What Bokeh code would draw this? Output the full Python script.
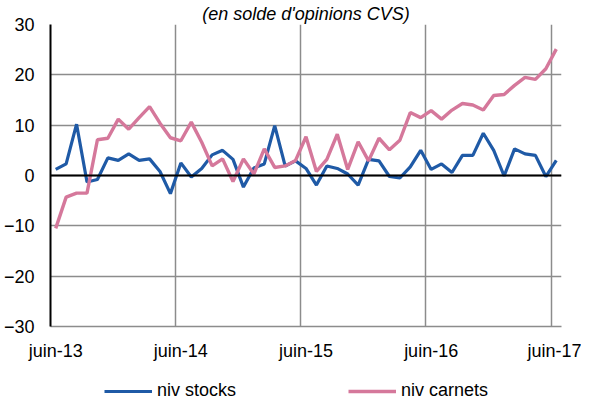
from bokeh.plotting import figure
from bokeh.layouts import column
from bokeh.models import Legend, LegendItem, Span, Title, FixedTicker, Range1d
from bokeh.embed import file_html
from bokeh.resources import INLINE

# Monthly data from juin-13 to juin-17 (49 months)
month_index = list(range(49))
tick_positions = [0, 12, 24, 36, 48]
tick_labels = ["juin-13", "juin-14", "juin-15", "juin-16", "juin-17"]
series_names = ["niv stocks", "niv carnets"]

niv_stocks = [1.2, 2.3, 10.2, -1.3, -0.8, 3.5, 3.0, 4.3, 3.0, 3.3,
              0.8, -3.6, 2.5, -0.3, 1.4, 4.1, 5.0, 3.2, -2.3, 1.5,
              2.3, 9.9, 1.9, 2.9, 1.4, -1.9, 1.9, 1.4, 0.3, -1.9,
              3.2, 2.9, -0.2, -0.5, 1.7, 5.0, 1.2, 2.3, 0.6, 4.0,
              4.0, 8.4, 5.0, -0.1, 5.3, 4.3, 4.0, -0.2, 3.0]

niv_carnets = [-10.5, -4.3, -3.5, -3.5, 7.1, 7.4, 11.2, 9.2, 11.5, 13.7,
               10.4, 7.5, 6.9, 10.6, 6.6, 1.9, 3.3, -1.2, 3.3, 0.3,
               5.3, 1.6, 1.9, 3.0, 7.7, 0.8, 3.2, 8.2, 1.2, 6.7,
               2.9, 7.4, 5.1, 7.0, 12.5, 11.5, 12.9, 11.2, 13.0, 14.3,
               14.0, 13.0, 15.9, 16.1, 17.9, 19.5, 19.1, 21.2, 25.1]

y_ticks = [-30, -20, -10, 0, 10, 20, 30]

# points sit in the middle of each month category
x_pos = [i + 0.5 for i in month_index]
label_pos = [t + 0.5 for t in tick_positions]

FONT = "Liberation Sans"
GRID = "#8c8c8c"
BLUE = "#1f5aa6"
PINK = "#d5789b"

p = figure(width=581, height=373, output_backend="svg", toolbar_location=None,
           x_range=Range1d(0, 49), y_range=Range1d(-30, 30),
           min_border_left=45, min_border_right=20, min_border_top=0,
           min_border_bottom=47)
p.outline_line_color = None
p.background_fill_color = "white"
p.border_fill_color = "white"

title = Title(text="(en solde d'opinions CVS)", align="center",
              text_font=FONT, text_font_size="18px", text_font_style="italic",
              text_color="#000000", standoff=2)
p.add_layout(title, "above")

# grids
p.xgrid.ticker = FixedTicker(ticks=tick_positions)
p.ygrid.ticker = FixedTicker(ticks=y_ticks)
p.xgrid.grid_line_color = GRID
p.ygrid.grid_line_color = GRID
p.xgrid.grid_line_width = 1.5
p.ygrid.grid_line_width = 1.5

# axes
p.xaxis.ticker = FixedTicker(ticks=label_pos)
p.xaxis.major_label_overrides = {t: l for t, l in zip(label_pos, tick_labels)}
p.yaxis.ticker = FixedTicker(ticks=y_ticks)
for ax in (p.xaxis[0], p.yaxis[0]):
    ax.major_tick_line_color = None
    ax.minor_tick_line_color = None
    ax.major_tick_out = 0
    ax.major_tick_in = 0
    ax.minor_tick_out = 0
    ax.minor_tick_in = 0
    ax.major_label_text_font = FONT
    ax.major_label_text_font_size = "18px"
    ax.major_label_text_color = "#000000"
p.xaxis.axis_line_color = GRID
p.xaxis.axis_line_width = 1.5
p.xaxis.major_label_standoff = 14
p.yaxis.axis_line_color = "#000000"
p.yaxis.axis_line_width = 2
p.yaxis.major_label_standoff = 16

zero = Span(location=0, dimension="width", line_color="#000000", line_width=2)
p.add_layout(zero)

p.line(x_pos, niv_stocks, line_color=BLUE, line_width=3.2)
p.line(x_pos, niv_carnets, line_color=PINK, line_width=3.4)

# legend strip below the chart (its line renderers lie outside its visible range)
lg = figure(width=581, height=25, output_backend="svg", toolbar_location=None,
            x_range=Range1d(0, 1), y_range=Range1d(0, 1),
            x_axis_type=None, y_axis_type=None,
            min_border_left=0, min_border_right=0, min_border_top=0,
            min_border_bottom=0)
lg.outline_line_color = None
lg.xgrid.visible = False
lg.ygrid.visible = False
k1 = lg.line([5, 6], [5, 6], line_color=BLUE, line_width=3.2)
k2 = lg.line([5, 6], [5, 6], line_color=PINK, line_width=3.4)

legend = Legend(items=[LegendItem(label=series_names[0], renderers=[k1]),
                       LegendItem(label=series_names[1], renderers=[k2])],
                orientation="horizontal", location=(54, -3),
                glyph_width=48, glyph_height=18, label_standoff=5, spacing=112,
                label_text_font=FONT, label_text_font_size="18px",
                label_text_color="#000000",
                border_line_color=None, background_fill_alpha=0,
                padding=0, margin=0)
lg.add_layout(legend, "center")

layout = column(p, lg, spacing=0)
open("out.html", "w").write(file_html(layout, INLINE))
